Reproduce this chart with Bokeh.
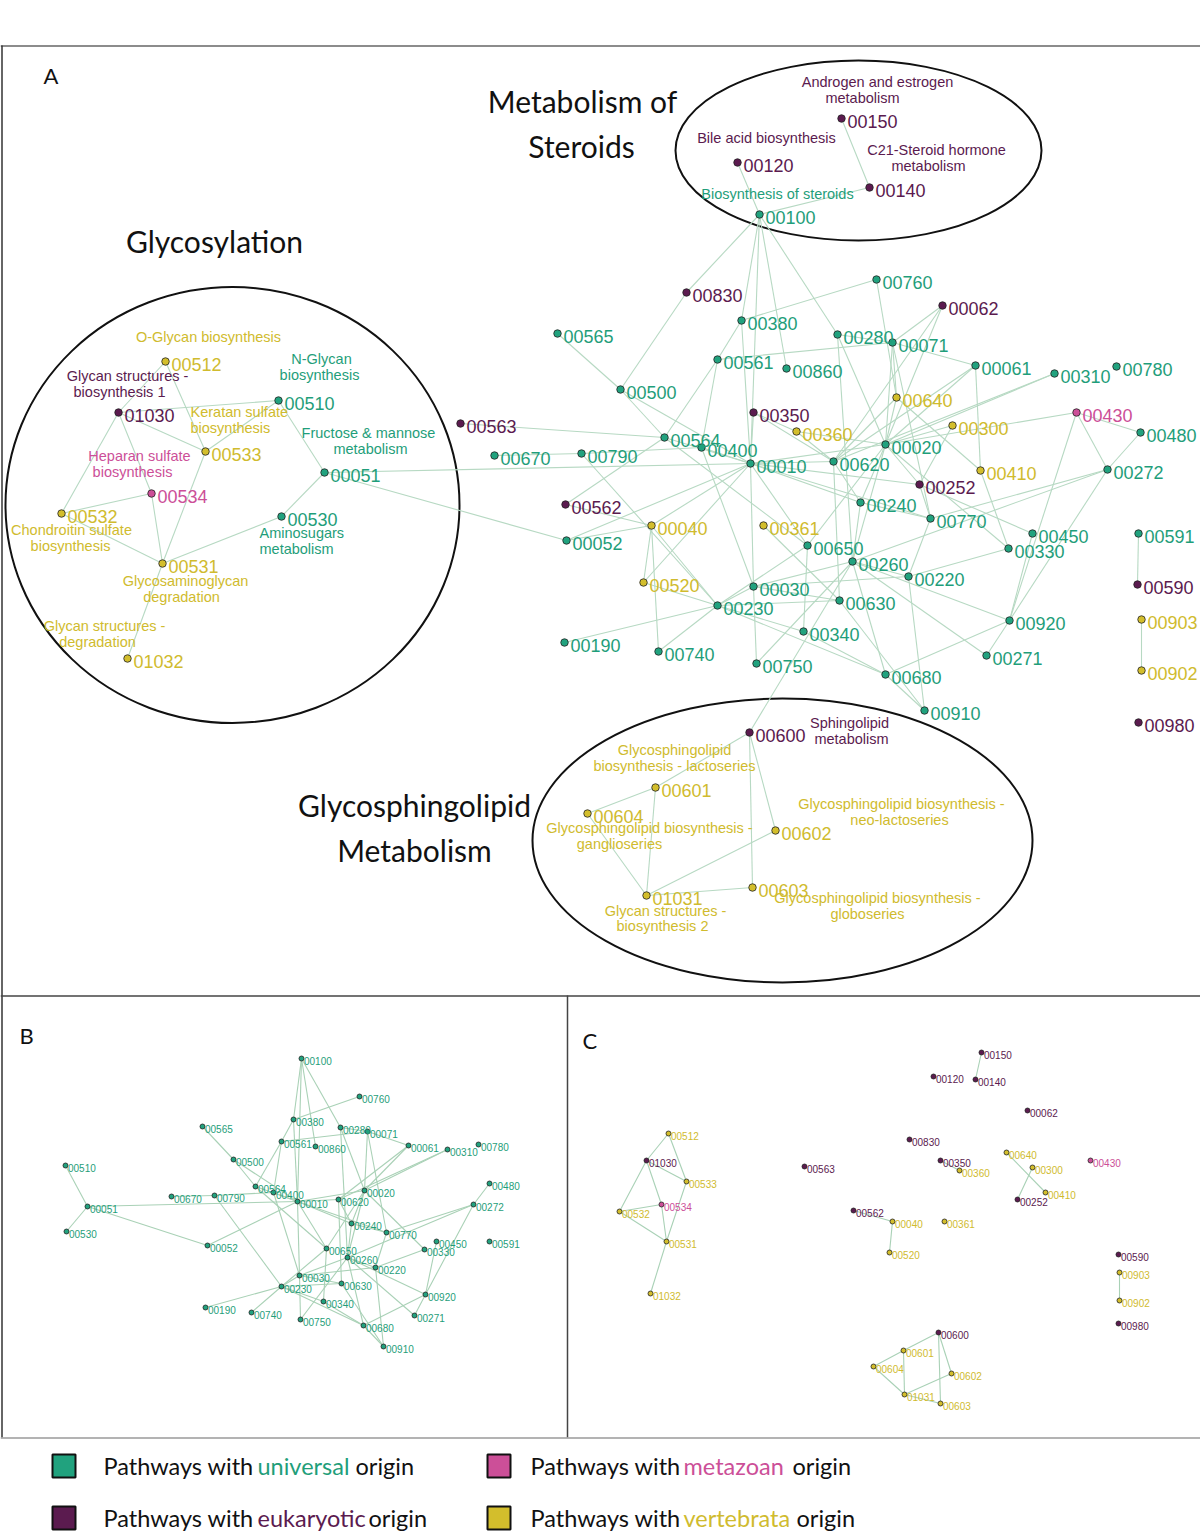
from bokeh.plotting import figure
from bokeh.models import Range1d, ColumnDataSource
from bokeh.core.properties import value
from bokeh.embed import file_html
from bokeh.resources import INLINE

# ---------------- data ----------------
ORIGIN_FILL = {"U": "#21a27e", "E": "#5b1b4f", "M": "#cc4f98", "V": "#d3be2c"}
ORIGIN_TEXT = {"U": "#1f9e7a", "E": "#5b1b4f", "M": "#cc4f98", "V": "#d0bb2e"}

# Panel A: full network (node id, layout x, layout y, origin)
A_ids = ["00150", "00120", "00140", "00100", "00760", "00830", "00062", "00380", "00565", "00280",
         "00071", "00561", "00860", "00061", "00310", "00780", "00500", "00640", "00350", "00430",
         "00563", "00300", "00360", "00480", "00564", "00020", "00400", "00670", "00790", "00010",
         "00620", "00410", "00272", "00252", "00562", "00240", "00770", "00040", "00361", "00450",
         "00591", "00052", "00650", "00330", "00260", "00220", "00520", "00590", "00030", "00630",
         "00230", "00903", "00920", "00340", "00190", "00740", "00271", "00750", "00902", "00680",
         "00910", "00980", "00600", "00601", "00604", "00602", "01031", "00603", "00512", "01030",
         "00510", "00533", "00051", "00534", "00532", "00530", "00531", "01032"]
A_x = [841, 737, 869, 759, 876, 686, 942, 741, 557, 837,
       892, 717, 786, 975, 1054, 1116, 620, 896, 753, 1076,
       460, 952, 796, 1140, 664, 885, 701, 494, 581, 750,
       833, 980, 1107, 919, 565, 860, 930, 651, 763, 1032,
       1138, 566, 807, 1008, 852, 908, 643, 1137, 753, 839,
       717, 1141, 1009, 803, 564, 658, 986, 756, 1141, 885,
       924, 1138, 749, 655, 587, 775, 646, 752, 165, 118,
       278, 205, 324, 151, 61, 281, 162, 127]
A_y = [118, 162, 187, 214, 279, 292, 305, 320, 333, 334,
       342, 359, 368, 365, 373, 366, 389, 397, 412, 412,
       423, 425, 431, 432, 437, 444, 447, 455, 453, 463,
       461, 470, 469, 484, 504, 502, 518, 525, 525, 533,
       533, 540, 545, 548, 561, 576, 582, 584, 586, 600,
       605, 619, 620, 631, 642, 651, 655, 663, 670, 674,
       710, 722, 732, 787, 813, 830, 895, 887, 361, 412,
       400, 451, 472, 493, 513, 516, 563, 658]
A_origin = ["E", "E", "E", "U", "U", "E", "E", "U", "U", "U",
            "U", "U", "U", "U", "U", "U", "U", "V", "E", "M",
            "E", "V", "V", "U", "U", "U", "U", "U", "U", "U",
            "U", "V", "U", "E", "E", "U", "U", "V", "V", "U",
            "U", "U", "U", "U", "U", "U", "V", "E", "U", "U",
            "U", "V", "U", "U", "U", "U", "U", "U", "V", "U",
            "U", "E", "E", "V", "V", "V", "V", "V", "V", "E",
            "U", "V", "U", "M", "V", "U", "V", "V"]

# Edges of the pathway network
edges = [
    ("00100", "00380"), ("00100", "00010"), ("00100", "00860"), ("00100", "00280"),
    ("00380", "00760"), ("00380", "00561"), ("00380", "00010"), ("00561", "00071"),
    ("00561", "00564"), ("00561", "00400"), ("00565", "00500"), ("00500", "00010"),
    ("00500", "00564"), ("00670", "00790"), ("00790", "00400"), ("00790", "00230"),
    ("00051", "00010"), ("00051", "00052"), ("00051", "00510"), ("00051", "00530"),
    ("00052", "00010"), ("00564", "00010"), ("00564", "00650"), ("00400", "00010"),
    ("00400", "00030"), ("00010", "00620"), ("00010", "00020"), ("00010", "00030"),
    ("00010", "00240"), ("00010", "00650"), ("00010", "00770"), ("00280", "00071"),
    ("00280", "00020"), ("00280", "00260"), ("00071", "00061"), ("00071", "00020"),
    ("00071", "00770"), ("00061", "00020"), ("00061", "00620"), ("00310", "00020"),
    ("00310", "00620"), ("00480", "00272"), ("00272", "00770"), ("00272", "00260"),
    ("00272", "00920"), ("00450", "00920"), ("00020", "00330"), ("00220", "00330"),
    ("00020", "00650"), ("00020", "00260"), ("00020", "00240"), ("00240", "00770"),
    ("00240", "00260"), ("00650", "00230"), ("00650", "00340"), ("00260", "00220"),
    ("00260", "00030"), ("00260", "00750"), ("00260", "00920"), ("00260", "00271"),
    ("00260", "00680"), ("00220", "00770"), ("00220", "00030"), ("00220", "00910"),
    ("00620", "00630"), ("00620", "00240"), ("00030", "00750"), ("00030", "00230"),
    ("00030", "00630"), ("00230", "00190"), ("00230", "00740"), ("00230", "00630"),
    ("00230", "00340"), ("00230", "00680"), ("00340", "00680"), ("00630", "00910"),
    ("00680", "00910"), ("00680", "00920"), ("00920", "00271"),
    ("00100", "00830"), ("00100", "00120"), ("00100", "00140"), ("00140", "00150"),
    ("00830", "00500"), ("00350", "00360"), ("00350", "00010"), ("00350", "00620"),
    ("00360", "00020"), ("00360", "00620"), ("00640", "00020"), ("00640", "00071"),
    ("00640", "00410"), ("00640", "00760"), ("00640", "00620"), ("00062", "00071"),
    ("00062", "00020"), ("00062", "00620"), ("00300", "00252"), ("00300", "00020"),
    ("00430", "00020"), ("00430", "00480"), ("00430", "00272"), ("00430", "00920"),
    ("00410", "00061"), ("00410", "00330"), ("00252", "00020"), ("00252", "00770"),
    ("00252", "00010"), ("00252", "00450"), ("00040", "00562"), ("00040", "00520"),
    ("00040", "00052"), ("00040", "00010"), ("00040", "00230"), ("00040", "00740"),
    ("00520", "00010"), ("00520", "00230"), ("00361", "00630"), ("00563", "00564"),
    ("00562", "00564"), ("00600", "00260"), ("00591", "00590"), ("00903", "00902"),
    ("00531", "00530"), ("00533", "00510"), ("01030", "00510"),
    ("00512", "01030"), ("00512", "00533"), ("01030", "00533"), ("01030", "00532"),
    ("01030", "00534"), ("00532", "00534"), ("00532", "00531"), ("00534", "00531"),
    ("00533", "00531"), ("00531", "01032"),
    ("00600", "00601"), ("00600", "00602"), ("00600", "00603"), ("00601", "00604"),
    ("00601", "01031"), ("00604", "01031"), ("01031", "00602"), ("01031", "00603"),
]

# Panel B: universal-origin sub-network layout
B_ids = ["00100", "00760", "00380", "00565", "00280", "00071", "00561", "00860", "00061", "00310",
         "00780", "00510", "00500", "00564", "00400", "00010", "00620", "00020", "00670", "00790",
         "00051", "00530", "00480", "00272", "00240", "00770", "00450", "00330", "00591", "00052",
         "00650", "00260", "00220", "00030", "00230", "00630", "00340", "00920", "00190", "00740",
         "00750", "00271", "00680", "00910"]
B_x = [301, 359, 293, 202, 340, 367, 281, 315, 408, 447,
       478, 65, 233, 255, 273, 297, 338, 364, 171, 214,
       87, 66, 489, 473, 351, 386, 436, 424, 489, 207,
       326, 347, 375, 299, 281, 341, 323, 425, 205, 251,
       300, 414, 363, 383]
B_y = [1058, 1096, 1119, 1126, 1127, 1131, 1141, 1146, 1145, 1149,
       1144, 1165, 1159, 1186, 1192, 1201, 1199, 1190, 1196, 1195,
       1206, 1231, 1183, 1204, 1223, 1232, 1241, 1249, 1241, 1245,
       1248, 1257, 1267, 1275, 1286, 1283, 1301, 1294, 1307, 1312,
       1319, 1315, 1325, 1346]

# Panel C: eukaryotic / metazoan / vertebrata sub-network layout
C_ids = ["00150", "00120", "00140", "00062", "00830", "00512", "01030", "00533", "00534", "00532",
         "00531", "01032", "00563", "00350", "00360", "00640", "00300", "00410", "00252", "00430",
         "00562", "00040", "00520", "00361", "00590", "00903", "00902", "00980", "00600", "00601",
         "00604", "00602", "01031", "00603"]
C_x = [981, 933, 975, 1027, 909, 668, 646, 686, 661, 619,
       666, 650, 804, 940, 959, 1006, 1032, 1045, 1017, 1090,
       853, 892, 889, 944, 1118, 1119, 1119, 1118, 938, 903,
       873, 951, 904, 940]
C_y = [1052, 1076, 1079, 1110, 1139, 1133, 1160, 1181, 1204, 1211,
       1241, 1293, 1166, 1160, 1170, 1152, 1167, 1192, 1199, 1160,
       1210, 1221, 1252, 1221, 1254, 1272, 1300, 1323, 1332, 1350,
       1366, 1373, 1394, 1403]

# Pathway names shown in panel A: (lines, x, y, origin, align)
names = [
    (["Androgen and estrogen", "metabolism"], [877, 862], [81, 97], "E", "center"),
    (["Bile acid biosynthesis"], [766], [137], "E", "center"),
    (["C21-Steroid hormone", "metabolism"], [936, 928], [149, 165], "E", "center"),
    (["Biosynthesis of steroids"], [777], [193], "U", "center"),
    (["O-Glycan biosynthesis"], [208], [336], "V", "center"),
    (["N-Glycan", "biosynthesis"], [321, 319], [358, 374], "U", "center"),
    (["Glycan structures -", "biosynthesis 1"], [127, 119], [375, 391], "E", "center"),
    (["Keratan sulfate", "biosynthesis"], [190, 190], [411, 427], "V", "left"),
    (["Fructose & mannose", "metabolism"], [368, 370], [432, 448], "U", "center"),
    (["Heparan sulfate", "biosynthesis"], [139, 132], [455, 471], "M", "center"),
    (["Chondroitin sulfate", "biosynthesis"], [71, 70], [529, 545], "V", "center"),
    (["Aminosugars", "metabolism"], [259, 259], [532, 548], "U", "left"),
    (["Glycosaminoglycan", "degradation"], [185, 181], [580, 596], "V", "center"),
    (["Glycan structures -", "degradation"], [104, 97], [625, 641], "V", "center"),
    (["Sphingolipid", "metabolism"], [849, 851], [722, 738], "E", "center"),
    (["Glycosphingolipid", "biosynthesis - lactoseries"], [674, 674], [749, 765], "V", "center"),
    (["Glycosphingolipid biosynthesis -", "neo-lactoseries"], [901, 899], [803, 819], "V", "center"),
    (["Glycosphingolipid biosynthesis -", "ganglioseries"], [649, 619], [827, 843], "V", "center"),
    (["Glycan structures -", "biosynthesis 2"], [665, 662], [910, 925], "V", "center"),
    (["Glycosphingolipid biosynthesis -", "globoseries"], [877, 867], [897, 913], "V", "center"),
]

group_titles = ["Metabolism of", "Steroids", "Glycosylation", "Glycosphingolipid", "Metabolism"]
group_title_x = [582, 581, 214, 414, 414]
group_title_y = [100, 145, 240, 804, 849]

legend_words = ["universal", "eukaryotic", "metazoan", "vertebrata"]
legend_origin = ["U", "E", "M", "V"]

# ---------------- figure ----------------
W, H = 1200, 1531
p = figure(width=W, height=H, x_range=Range1d(0, W), y_range=Range1d(H, 0),
           output_backend="svg", toolbar_location=None, min_border=0)
p.axis.visible = False
p.xgrid.visible = False
p.ygrid.visible = False
p.outline_line_color = None
p.background_fill_color = "white"
p.border_fill_color = "white"

NUM_FONT = value("Liberation Sans")
DESC_FONT = value("Liberation Sans")
TITLE_FONT = value("Lato")

# panel frames
p.segment(x0=[0], y0=[45.5], x1=[1200], y1=[45.5], line_color="#8c8c8c", line_width=2)
p.segment(x0=[1.5, 0, 567, 0], y0=[45, 995.5, 995, 1437.5], x1=[1.5, 1200, 567, 1200],
          y1=[1437, 995.5, 1437, 1437.5], line_color=["#333333", "#444444", "#444444", "#9a9a9a"],
          line_width=1.5)

# group ellipses
p.ellipse(x=[858, 232, 782], y=[150, 504.5, 840], width=[366, 454, 500], height=[180, 436, 284],
          fill_color=None, line_color="#111111", line_width=2)


def draw_network(ids, xs, ys, edge_filter, dot_size, font_size, dx, dy, edge_color, edge_w):
    pos = {i: (x, y) for i, x, y in zip(ids, xs, ys)}
    org = dict(zip(A_ids, A_origin))
    ex0, ey0, ex1, ey1 = [], [], [], []
    for a, b in edges:
        if a in pos and b in pos and edge_filter(org[a], org[b]):
            ex0.append(pos[a][0]); ey0.append(pos[a][1])
            ex1.append(pos[b][0]); ey1.append(pos[b][1])
    p.segment(x0=ex0, y0=ey0, x1=ex1, y1=ey1, line_color=edge_color, line_width=edge_w)
    src = ColumnDataSource(dict(
        x=xs, y=ys, lx=[x + dx for x in xs], ly=[y + dy for y in ys], t=ids,
        fc=[ORIGIN_FILL[org[i]] for i in ids], tc=[ORIGIN_TEXT[org[i]] for i in ids]))
    p.scatter("x", "y", source=src, size=dot_size, fill_color="fc", line_color="#222222",
              line_width=0.8)
    p.text("lx", "ly", text="t", source=src, text_color="tc", text_font=NUM_FONT,
           text_font_size=font_size, text_baseline="alphabetic", text_align="left")


draw_network(A_ids, A_x, A_y, lambda a, b: True, 7.5, "18px", 6, 3, "#b7d9c3", 1.1)
draw_network(B_ids, B_x, B_y, lambda a, b: a == "U" and b == "U", 5, "10px", 2.5, 2, "#a9d1b6", 1.1)
draw_network(C_ids, C_x, C_y, lambda a, b: a != "U" and b != "U", 5, "10px", 2.5, 2, "#a9d1b6", 1.1)

# pathway names
for lines, xs, ys, o, al in names:
    p.text(x=xs, y=ys, text=lines, text_color=ORIGIN_TEXT[o], text_font=DESC_FONT,
           text_font_size="14.5px", text_align=al, text_baseline="middle")

# group titles and panel letters
p.text(x=group_title_x, y=group_title_y, text=group_titles, text_color="#111111",
       text_font=TITLE_FONT, text_font_size="30px", text_align="center", text_baseline="middle")
p.text(x=[43, 19, 582], y=[75, 1035, 1040], text=["A", "B", "C"], text_color="#111111",
       text_font=TITLE_FONT, text_font_size="22px", text_align="left", text_baseline="middle")

# legend
sq_x = [63.5, 63.5, 498.5, 498.5]
sq_y = [1465.5, 1517.5, 1465.5, 1517.5]
p.rect(x=sq_x, y=sq_y, width=23, height=23,
       fill_color=[ORIGIN_FILL[o] for o in legend_origin], line_color="#111111", line_width=2)
txt_x0 = [103, 103, 530, 530]
word_x = [257, 257, 683, 683]
orig_x = [355, 368, 792, 796]
p.text(x=txt_x0, y=sq_y, text=["Pathways with"] * 4, text_color="#111111", text_font=TITLE_FONT,
       text_font_size="23.5px", text_baseline="middle", text_align="left")
p.text(x=word_x, y=sq_y, text=legend_words, text_color=[ORIGIN_TEXT[o] for o in legend_origin],
       text_font=TITLE_FONT, text_font_size="23.5px", text_baseline="middle", text_align="left")
p.text(x=orig_x, y=sq_y, text=["origin"] * 4, text_color="#111111", text_font=TITLE_FONT,
       text_font_size="23.5px", text_baseline="middle", text_align="left")

open("out.html", "w").write(file_html(p, INLINE))
